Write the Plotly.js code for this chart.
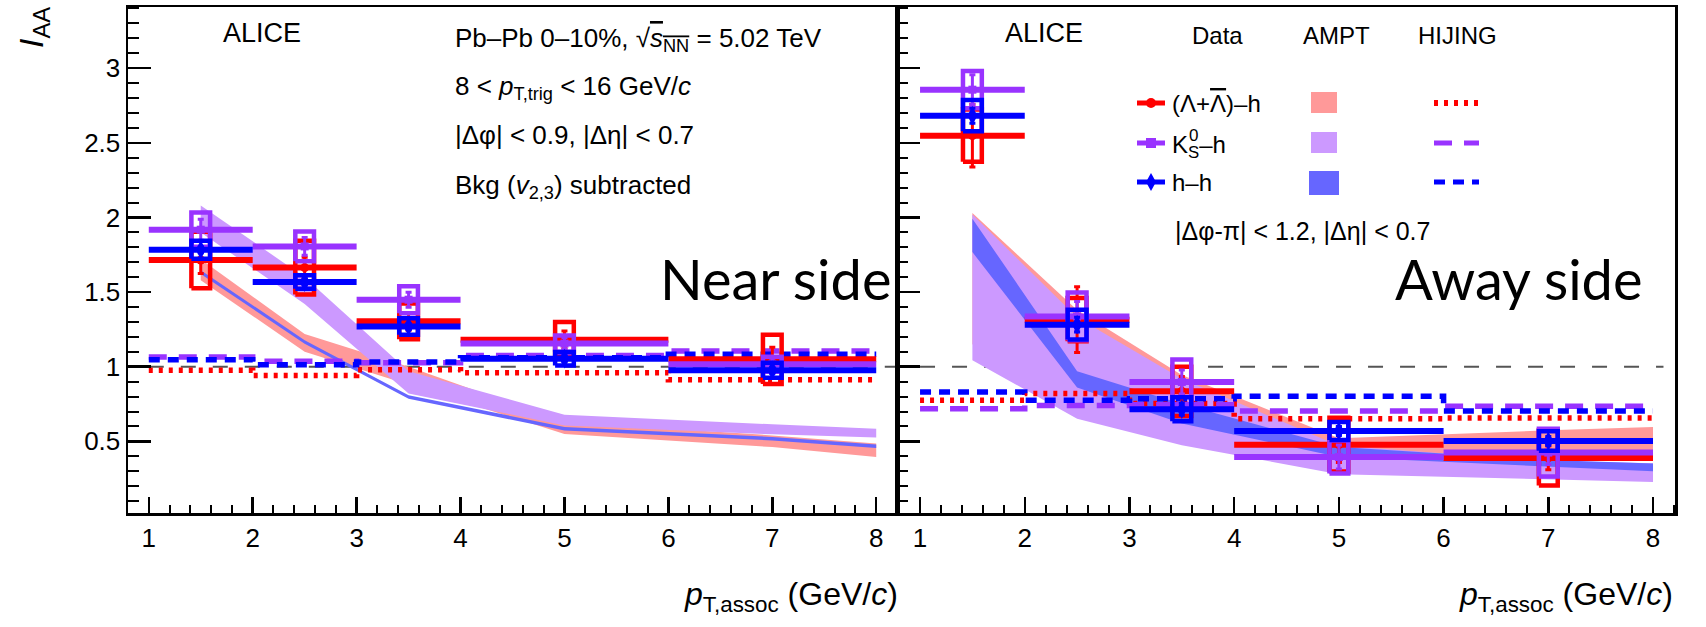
<!DOCTYPE html>
<html>
<head>
<meta charset="utf-8">
<script src="https://cdn.plot.ly/plotly-3.0.1.min.js"></script>
<style>
  html, body { margin: 0; padding: 0; background: #fff; }
  #chart { width: 1706px; height: 627px; }
</style>
</head>
<body>
<div id="chart"></div>
<script>
// ---- Binning in p_T,assoc (GeV/c) ----
const binEdges = [1, 2, 3, 4, 6, 8];
const ptCenters = [1.5, 2.5, 3.5, 5, 7];
const ptHalfWidths = [0.5, 0.5, 0.5, 1, 1];

// ---- Near side I_AA: data (value, stat, sys) ----
const nearLamVal  = [1.715, 1.664, 1.304, 1.180, 1.050];
const nearLamStat = [0.09, 0.07, 0.06, 0.06, 0.08];
const nearLamSys  = [0.19, 0.18, 0.12, 0.12, 0.165];
const nearK0Val   = [1.918, 1.806, 1.449, 1.155, 1.016];
const nearK0Stat  = [0.07, 0.06, 0.05, 0.04, 0.04];
const nearK0Sys   = [0.115, 0.10, 0.09, 0.055, 0.05];
const nearHHVal   = [1.784, 1.567, 1.270, 1.054, 0.976];
const nearHHStat  = [0.02, 0.02, 0.02, 0.02, 0.02];
const nearHHSys   = [0.06, 0.045, 0.055, 0.045, 0.05];

// ---- Away side I_AA: data (value, stat, sys) ----
const awayLamVal  = [2.548, 1.315, 0.835, 0.478, 0.389];
const awayLamStat = [0.21, 0.22, 0.10, 0.12, 0.08];
const awayLamSys  = [0.175, 0.145, 0.165, 0.18, 0.185];
const awayK0Val   = [2.856, 1.337, 0.898, 0.395, 0.425];
const awayK0Stat  = [0.10, 0.10, 0.08, 0.08, 0.08];
const awayK0Sys   = [0.125, 0.16, 0.15, 0.11, 0.16];
const awayHHVal   = [2.682, 1.282, 0.715, 0.569, 0.502];
const awayHHStat  = [0.05, 0.05, 0.04, 0.03, 0.03];
const awayHHSys   = [0.105, 0.10, 0.08, 0.06, 0.065];

// ---- AMPT bands (lower / upper edge) ----
const amptX = [1.5, 2.5, 3.5, 5, 7, 8];
const nearAmptLamLo = [1.58, 1.10, 0.88, 0.55, 0.462, 0.395];
const nearAmptLamHi = [1.72, 1.22, 1.00, 0.63, 0.54, 0.485];
const nearAmptK0Lo  = [1.90, 1.42, 0.82, 0.607, 0.547, 0.525];
const nearAmptK0Hi  = [2.08, 1.60, 0.97, 0.679, 0.614, 0.585];
const nearAmptHHLo  = [1.622, 1.154, 0.785, 0.573, 0.506, 0.455];
const nearAmptHHHi  = [1.646, 1.178, 0.809, 0.597, 0.530, 0.479];
const awayAmptLamLo = [1.15, 0.70, 0.50, 0.30, 0.386, 0.373];
const awayAmptLamHi = [2.03, 1.38, 0.945, 0.52, 0.574, 0.596];
const awayAmptK0Lo  = [1.043, 0.652, 0.474, 0.28, 0.245, 0.228];
const awayAmptK0Hi  = [2.02, 1.33, 0.92, 0.47, 0.37, 0.353];
const awayAmptHHLo  = [1.768, 0.86, 0.62, 0.395, 0.33, 0.30];
const awayAmptHHHi  = [1.992, 0.97, 0.75, 0.462, 0.375, 0.351];

// ---- HIJING (one value per p_T,assoc bin) ----
const hijNearLam = [0.976, 0.942, 0.980, 0.960, 0.913];
const hijNearK0  = [1.065, 1.036, 1.027, 1.075, 1.105];
const hijNearHH  = [1.047, 1.014, 1.031, 1.060, 1.083];
const hijAwayLam = [0.775, 0.820, 0.753, 0.652, 0.656];
const hijAwayK0  = [0.719, 0.741, 0.745, 0.703, 0.735];
const hijAwayHH  = [0.831, 0.775, 0.786, 0.802, 0.703];

// Unity reference
const unityLevel = 1;

// ---- Styles ----
const C_LAM = '#ff0000', C_K0 = '#9933ff', C_HH = '#0000ff';
const C_LAM_BAND = '#ff9999', C_K0_BAND = '#cc99ff', C_HH_BAND = '#6666ff';
const ROOTFONT = '"Liberation Sans", Arial, Helvetica, sans-serif';
const SLIDEFONT = 'Lato, "Open Sans", sans-serif';
const SYS_HALF_W = 0.09;

function band(lo, hi, color, xa, ya) {
  return {
    type: 'scatter', mode: 'lines', xaxis: xa, yaxis: ya,
    x: amptX.concat(amptX.slice().reverse()),
    y: hi.concat(lo.slice().reverse()),
    fill: 'toself', fillcolor: color, line: {width: 0, color: color},
    hoverinfo: 'skip', showlegend: false
  };
}

function hijing(vals, color, dash, xa, ya) {
  return {
    type: 'scatter', mode: 'lines', xaxis: xa, yaxis: ya,
    x: binEdges, y: vals.concat([vals[vals.length - 1]]),
    line: {shape: 'hv', color: color, width: 5.5, dash: dash},
    hoverinfo: 'skip', showlegend: false
  };
}

function sysBoxes(vals, sys, color, xa, ya) {
  const x = [], y = [];
  ptCenters.forEach((c, i) => {
    const x0 = c - SYS_HALF_W, x1 = c + SYS_HALF_W;
    const y0 = vals[i] - sys[i], y1 = vals[i] + sys[i];
    x.push(x0, x1, x1, x0, x0, null);
    y.push(y0, y0, y1, y1, y0, null);
  });
  return {
    type: 'scatter', mode: 'lines', xaxis: xa, yaxis: ya, x: x, y: y,
    line: {color: color, width: 4.5}, hoverinfo: 'skip', showlegend: false
  };
}

function points(vals, stat, color, symbol, size, xa, ya) {
  return {
    type: 'scatter', mode: 'markers', xaxis: xa, yaxis: ya,
    x: ptCenters, y: vals,
    marker: {color: color, symbol: symbol, size: size},
    error_x: {type: 'data', array: ptHalfWidths, color: color, thickness: 6, width: 0},
    error_y: {type: 'data', array: stat, color: color, thickness: 3, width: 3},
    showlegend: false
  };
}

function panel(xa, ya, d) {
  return [
    band(d.lamLo, d.lamHi, C_LAM_BAND, xa, ya),
    band(d.k0Lo, d.k0Hi, C_K0_BAND, xa, ya),
    band(d.hhLo, d.hhHi, C_HH_BAND, xa, ya),
    hijing(d.hijLam, C_LAM, '4px,6px', xa, ya),
    hijing(d.hijK0, C_K0, '18px,12px', xa, ya),
    hijing(d.hijHH, C_HH, '11px,8px', xa, ya),
    sysBoxes(d.lamVal, d.lamSys, C_LAM, xa, ya),
    points(d.lamVal, d.lamStat, C_LAM, 'circle', 9, xa, ya),
    sysBoxes(d.k0Val, d.k0Sys, C_K0, xa, ya),
    points(d.k0Val, d.k0Stat, C_K0, 'square', 8, xa, ya),
    sysBoxes(d.hhVal, d.hhSys, C_HH, xa, ya),
    points(d.hhVal, d.hhStat, C_HH, 'diamond-tall', 14, xa, ya)
  ];
}

const traces = [].concat(
  panel('x', 'y', {
    lamLo: nearAmptLamLo, lamHi: nearAmptLamHi, k0Lo: nearAmptK0Lo, k0Hi: nearAmptK0Hi,
    hhLo: nearAmptHHLo, hhHi: nearAmptHHHi,
    hijLam: hijNearLam, hijK0: hijNearK0, hijHH: hijNearHH,
    lamVal: nearLamVal, lamStat: nearLamStat, lamSys: nearLamSys,
    k0Val: nearK0Val, k0Stat: nearK0Stat, k0Sys: nearK0Sys,
    hhVal: nearHHVal, hhStat: nearHHStat, hhSys: nearHHSys
  }),
  panel('x2', 'y2', {
    lamLo: awayAmptLamLo, lamHi: awayAmptLamHi, k0Lo: awayAmptK0Lo, k0Hi: awayAmptK0Hi,
    hhLo: awayAmptHHLo, hhHi: awayAmptHHHi,
    hijLam: hijAwayLam, hijK0: hijAwayK0, hijHH: hijAwayHH,
    lamVal: awayLamVal, lamStat: awayLamStat, lamSys: awayLamSys,
    k0Val: awayK0Val, k0Stat: awayK0Stat, k0Sys: awayK0Sys,
    hhVal: awayHHVal, hhStat: awayHHStat, hhSys: awayHHSys
  })
);

// ---- Page geometry (pixels) ----
const W = 1706, H = 627, ML = 128, MR = 31, MT = 7, MB = 114;
const PW = W - ML - MR, PH = H - MT - MB;
const SPLIT = (897 - ML) / PW;
const px = v => (v - ML) / PW;
const py = v => (H - MB - v) / PH;

function note(text, x, y, size, opts) {
  return Object.assign({
    text: text, x: px(x), y: py(y), xref: 'paper', yref: 'paper',
    showarrow: false, xanchor: 'left', yanchor: 'middle',
    font: {family: ROOTFONT, size: size, color: '#000'}
  }, opts || {});
}

const annotations = [
  // axis titles
  note('<i>I</i><sub>AA</sub>', 34, 28, 34, {xanchor: 'center', textangle: -90}),
  note('<i>p</i><sub>T,assoc</sub> (GeV/<i>c</i>)', 900, 596, 32, {xanchor: 'right'}),
  note('<i>p</i><sub>T,assoc</sub> (GeV/<i>c</i>)', 1675, 596, 32, {xanchor: 'right'}),
  // near side
  note('ALICE', 262, 33, 27, {xanchor: 'center'}),
  note('Pb–Pb 0–10%, √<span style="text-decoration:overline"><i>s</i><sub>NN</sub></span> = 5.02 TeV', 453, 40, 26),
  note('8 < <i>p</i><sub>T,trig</sub> < 16 GeV/<i>c</i>', 453, 88, 26),
  note('|Δφ| < 0.9, |Δη| < 0.7', 453, 135, 26),
  note('Bkg (<i>v</i><sub>2,3</sub>) subtracted', 453, 187, 26),
  note('Near side', 893, 278, 56, {xanchor: 'right', font: {family: SLIDEFONT, size: 56, color: '#000'}}),
  // away side
  note('ALICE', 1044, 33, 27, {xanchor: 'center'}),
  note('Data', 1217, 35, 24, {xanchor: 'center'}),
  note('AMPT', 1336, 35, 24, {xanchor: 'center'}),
  note('HIJING', 1457, 35, 24, {xanchor: 'center'}),
  note('(Λ+<span style="text-decoration:overline">Λ</span>)–h', 1170, 103, 24),
  note('K<sub>S</sub>–h', 1170, 147, 24),
  note('0', 1187, 136, 17),
  note('h–h', 1170, 182, 24),
  note('|Δφ-π| < 1.2, |Δη| < 0.7', 1173, 231, 25),
  note('Away side', 1645, 278, 56, {xanchor: 'right', font: {family: SLIDEFONT, size: 56, color: '#000'}})
];

// ---- Legend glyphs and reference lines ----
function pxLine(x0, x1, y, color, width, dash) {
  return {type: 'line', xref: 'paper', yref: 'paper', x0: px(x0), x1: px(x1), y0: py(y), y1: py(y),
          line: {color: color, width: width, dash: dash || 'solid'}};
}
function pxRect(x0, x1, y0, y1, color) {
  return {type: 'rect', xref: 'paper', yref: 'paper', x0: px(x0), x1: px(x1), y0: py(y0), y1: py(y1),
          fillcolor: color, line: {width: 0}};
}
const rows = [103, 143, 182];
const mx = 1151;
const shapes = [
  // unity reference lines
  {type: 'line', xref: 'x', yref: 'y', x0: 1, x1: 8.2, y0: unityLevel, y1: unityLevel, layer: 'below',
   line: {color: '#555', width: 2, dash: '15px,17px'}},
  {type: 'line', xref: 'x2', yref: 'y2', x0: 1, x1: 8.1, y0: unityLevel, y1: unityLevel, layer: 'below',
   line: {color: '#555', width: 2, dash: '15px,17px'}},
  // data column
  pxLine(1137, 1165, rows[0], C_LAM, 5),
  pxLine(1137, 1165, rows[1], C_K0, 5),
  pxLine(1137, 1165, rows[2], C_HH, 5),
  {type: 'circle', xref: 'paper', yref: 'paper', x0: px(mx - 5), x1: px(mx + 5), y0: py(rows[0] + 5), y1: py(rows[0] - 5),
   fillcolor: C_LAM, line: {width: 0}},
  pxRect(mx - 5, mx + 5, rows[1] + 5, rows[1] - 5, C_K0),
  {type: 'path', xref: 'paper', yref: 'paper', fillcolor: C_HH, line: {width: 0},
   path: `M ${px(mx - 5)} ${py(rows[2])} L ${px(mx)} ${py(rows[2] - 9)} L ${px(mx + 5)} ${py(rows[2])} L ${px(mx)} ${py(rows[2] + 9)} Z`},
  // AMPT column
  pxRect(1311, 1337, 92, 113, C_LAM_BAND),
  pxRect(1311, 1337, 132, 153, C_K0_BAND),
  pxRect(1309, 1339, 171, 195, C_HH_BAND),
  // HIJING column
  pxLine(1434, 1479, rows[0], C_LAM, 6, '4px,6px'),
  pxLine(1434, 1479, rows[1], C_K0, 5, '18px,12px'),
  pxLine(1434, 1479, rows[2], C_HH, 5, '11px,8px')
];

const tickFont = {family: ROOTFONT, size: 26, color: '#000'};
function xAxis(domain, range, anchor) {
  return {
    domain: domain, range: range, anchor: anchor,
    showgrid: false, zeroline: false,
    showline: true, linecolor: '#000', linewidth: 2.5, mirror: true,
    ticks: 'inside', ticklen: 16, tickwidth: 2.5, tickcolor: '#000',
    tickmode: 'linear', tick0: 1, dtick: 1, tickfont: tickFont,
    minor: {ticks: 'inside', ticklen: 8, tickwidth: 2, tickcolor: '#000', dtick: 0.2, tick0: 1, showgrid: false}
  };
}
function yAxis(anchor, showLabels) {
  return {
    anchor: anchor, range: [0.02, 3.41], domain: [0, 1],
    showgrid: false, zeroline: false,
    showline: true, linecolor: '#000', linewidth: 2.5, mirror: true,
    ticks: 'inside', ticklen: 23, tickwidth: 2.5, tickcolor: '#000',
    tickmode: 'linear', tick0: 0, dtick: 0.5, tickfont: tickFont,
    showticklabels: showLabels,
    minor: {ticks: 'inside', ticklen: 11, tickwidth: 2, tickcolor: '#000', dtick: 0.1, tick0: 0, showgrid: false}
  };
}

const layout = {
  width: W, height: H,
  margin: {l: ML, r: MR, t: MT, b: MB, pad: 0},
  paper_bgcolor: '#fff', plot_bgcolor: '#fff',
  showlegend: false,
  xaxis: xAxis([0, SPLIT], [0.8, 8.2], 'y'),
  xaxis2: xAxis([SPLIT, 1], [0.78, 8.21], 'y2'),
  yaxis: yAxis('x', true),
  yaxis2: yAxis('x2', false),
  annotations: annotations,
  shapes: shapes
};

Plotly.newPlot('chart', traces, layout, {displayModeBar: false, staticPlot: true});
</script>
</body>
</html>
